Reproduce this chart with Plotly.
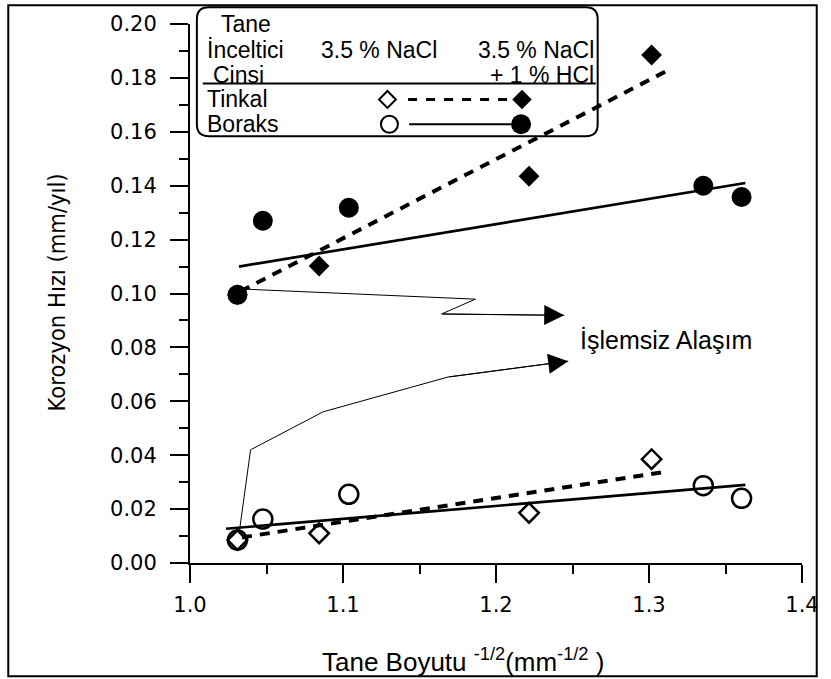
import plotly.graph_objects as go

# ---------------- data ----------------
x_tinkal = [1.031, 1.0844, 1.2216, 1.3017]
y_tinkal_nacl = [0.0085, 0.0110, 0.0186, 0.0385]
y_tinkal_hcl = [0.0995, 0.1102, 0.1435, 0.1885]

x_boraks = [1.031, 1.0476, 1.1038, 1.3355, 1.3605]
y_boraks_nacl = [0.0085, 0.0163, 0.0255, 0.0287, 0.0240]
y_boraks_hcl = [0.0995, 0.1270, 0.1318, 0.1400, 0.1358]

# fitted lines (end points)
fit_tinkal_hcl_x = [1.033, 1.313]
fit_tinkal_hcl_y = [0.1008, 0.1830]
fit_boraks_hcl_x = [1.032, 1.363]
fit_boraks_hcl_y = [0.1100, 0.1410]
fit_tinkal_nacl_x = [1.034, 1.309]
fit_tinkal_nacl_y = [0.0095, 0.0337]
fit_boraks_nacl_x = [1.0235, 1.363]
fit_boraks_nacl_y = [0.0127, 0.0290]

# arrows to the "untreated alloy" label
arrow_up_x = [1.0365, 1.1865, 1.1644, 1.2446]
arrow_up_y = [0.1016, 0.0979, 0.0924, 0.0919]
arrow_lo_x = [1.0321, 1.0396, 1.0870, 1.1686, 1.2472]
arrow_lo_y = [0.0110, 0.0420, 0.0561, 0.0690, 0.0749]

x_ticks = [1.0, 1.1, 1.2, 1.3, 1.4]
y_ticks = [0.00, 0.02, 0.04, 0.06, 0.08, 0.10, 0.12, 0.14, 0.16, 0.18, 0.20]

# ---------------- layout geometry (pixels) ----------------
W, H = 831, 679
L, R, T, B = 190, 813, 20, 563
FONT = "Arial, Liberation Sans, sans-serif"
TICKFONT = "DejaVu Sans, Arial, sans-serif"
NARROW = "DejaVu Sans Condensed, Liberation Sans, sans-serif"


def PX(x):
    return (x - L) / (R - L)


def PY(y):
    return (B - y) / (B - T)


fig = go.Figure()

line_dash = "10px,8px"

# fit lines
fig.add_trace(go.Scatter(x=fit_tinkal_hcl_x, y=fit_tinkal_hcl_y, mode="lines",
                         line=dict(color="black", width=4, dash=line_dash), hoverinfo="skip"))
fig.add_trace(go.Scatter(x=fit_boraks_hcl_x, y=fit_boraks_hcl_y, mode="lines",
                         line=dict(color="black", width=2.7), hoverinfo="skip"))
fig.add_trace(go.Scatter(x=fit_tinkal_nacl_x, y=fit_tinkal_nacl_y, mode="lines",
                         line=dict(color="black", width=4, dash=line_dash), hoverinfo="skip"))
fig.add_trace(go.Scatter(x=fit_boraks_nacl_x, y=fit_boraks_nacl_y, mode="lines",
                         line=dict(color="black", width=2.7), hoverinfo="skip"))

# arrow polylines
fig.add_trace(go.Scatter(x=arrow_up_x, y=arrow_up_y, mode="lines",
                         line=dict(color="black", width=1), hoverinfo="skip"))
fig.add_trace(go.Scatter(x=arrow_lo_x, y=arrow_lo_y, mode="lines",
                         line=dict(color="black", width=1), hoverinfo="skip"))

# markers
fig.add_trace(go.Scatter(x=x_tinkal, y=y_tinkal_hcl, mode="markers", name="Tinkal 3.5% NaCl + 1% HCl",
                         marker=dict(symbol="diamond", size=16, color="black")))
fig.add_trace(go.Scatter(x=x_boraks, y=y_boraks_hcl, mode="markers", name="Boraks 3.5% NaCl + 1% HCl",
                         marker=dict(symbol="circle", size=20, color="black")))
fig.add_trace(go.Scatter(x=x_boraks, y=y_boraks_nacl, mode="markers", name="Boraks 3.5% NaCl",
                         marker=dict(symbol="circle-open", size=19, color="black", line=dict(width=2.5))))
fig.add_trace(go.Scatter(x=x_tinkal, y=y_tinkal_nacl, mode="markers", name="Tinkal 3.5% NaCl",
                         marker=dict(symbol="diamond-open", size=15, color="black", line=dict(width=2.5))))

# legend sample symbols on an overlay pixel axis
fig.add_trace(go.Scatter(x=[412, 520], y=[96, 96], mode="lines", xaxis="x2", yaxis="y2",
                         line=dict(color="black", width=3, dash="9px,9px"), hoverinfo="skip"))
fig.add_trace(go.Scatter(x=[413, 517], y=[121, 121], mode="lines", xaxis="x2", yaxis="y2",
                         line=dict(color="black", width=2), hoverinfo="skip"))
fig.add_trace(go.Scatter(x=[391], y=[96], mode="markers", xaxis="x2", yaxis="y2",
                         marker=dict(symbol="diamond-open", size=13, color="black", line=dict(width=2)),
                         hoverinfo="skip"))
fig.add_trace(go.Scatter(x=[528], y=[96], mode="markers", xaxis="x2", yaxis="y2",
                         marker=dict(symbol="diamond", size=15, color="black"), hoverinfo="skip"))
fig.add_trace(go.Scatter(x=[393], y=[121], mode="markers", xaxis="x2", yaxis="y2",
                         marker=dict(symbol="circle-open", size=17, color="black", line=dict(width=2)),
                         hoverinfo="skip"))
fig.add_trace(go.Scatter(x=[527], y=[121], mode="markers", xaxis="x2", yaxis="y2",
                         marker=dict(symbol="circle", size=20, color="black"), hoverinfo="skip"))

annotations = []
# arrow heads
for xs, ys in ((arrow_up_x, arrow_up_y), (arrow_lo_x, arrow_lo_y)):
    annotations.append(dict(x=xs[-1], y=ys[-1], ax=xs[-2], ay=ys[-2], xref="x", yref="y",
                            axref="x", ayref="y", showarrow=True, arrowhead=2, arrowsize=4,
                            arrowwidth=1, arrowcolor="black", text=""))
annotations.append(dict(x=PX(585), y=PY(338), xref="paper", yref="paper", xanchor="left",
                        yanchor="middle", showarrow=False, text="İşlemsiz Alaşım",
                        font=dict(family=FONT, size=25, color="black")))

# legend texts (pixel positions)
leg_font = dict(family=FONT, size=23, color="black")
leg_texts = [
    ("Tane", 220, 20, "left"),
    ("İnceltici", 205, 46, "left"),
    ("3.5 % NaCl", 321, 46, "left"),
    ("3.5 % NaCl", 603, 46, "right"),
    ("Cinsi", 211, 71, "left"),
    ("+ 1 % HCl", 603, 71, "right"),
    ("Tinkal", 205, 96, "left"),
    ("Boraks", 205, 121, "left"),
]
for t, x, y, anc in leg_texts:
    annotations.append(dict(x=PX(x), y=PY(y), xref="paper", yref="paper", xanchor=anc,
                            yanchor="middle", showarrow=False, text=t, font=leg_font))

# axis titles
annotations.append(dict(x=PX(55), y=PY(290), xref="paper", yref="paper", textangle=-90,
                        xanchor="center", yanchor="middle",
                        showarrow=False, text="Korozyon Hızı (mm/yıl)",
                        font=dict(family=NARROW, size=23.5, color="black")))
annotations.append(dict(x=PX(468), y=PY(661), xref="paper", yref="paper",
                        xanchor="center", yanchor="middle",
                        showarrow=False,
                        text="Tane Boyutu <sup>-1/2</sup>(mm<sup>-1/2</sup> )",
                        font=dict(family=FONT, size=26, color="black")))

# shapes: outer frame, legend box, legend rule
x0, x1, yt, yb = PX(197), PX(605), PY(3), PY(133)
rx, ry = 12 / (R - L), 12 / (B - T)
box_path = (f"M {x0+rx},{yt} L {x1-rx},{yt} Q {x1},{yt} {x1},{yt-ry} "
            f"L {x1},{yb+ry} Q {x1},{yb} {x1-rx},{yb} L {x0+rx},{yb} "
            f"Q {x0},{yb} {x0},{yb+ry} L {x0},{yt-ry} Q {x0},{yt} {x0+rx},{yt} Z")
shapes = [
    dict(type="rect", xref="paper", yref="paper", x0=PX(5), x1=PX(828), y0=PY(677), y1=PY(1),
         line=dict(color="black", width=2)),
    dict(type="path", xref="paper", yref="paper", path=box_path, line=dict(color="black", width=2)),
    dict(type="line", xref="paper", yref="paper", x0=PX(203), x1=PX(603), y0=PY(80), y1=PY(80),
         line=dict(color="black", width=2)),
]

fig.update_layout(
    width=W, height=H,
    margin=dict(l=L, r=W - R, t=T, b=H - B, pad=0),
    paper_bgcolor="white", plot_bgcolor="white",
    showlegend=False,
    font=dict(family=FONT, size=19, color="black"),
    annotations=annotations,
    shapes=shapes,
    xaxis=dict(range=[1.0, 1.4], tickvals=x_ticks, ticktext=[f"{v:.1f}" for v in x_ticks],
               showgrid=False, zeroline=False, showline=True, linecolor="black", linewidth=2,
               ticks="outside", ticklen=18, tickwidth=2, tickcolor="black",
               minor=dict(dtick=0.05, ticks="outside", ticklen=9, tickwidth=2, tickcolor="black",
                          showgrid=False),
               tickfont=dict(family=TICKFONT, size=21), ticklabelstandoff=4),
    yaxis=dict(range=[0, 0.2], tickvals=y_ticks, ticktext=[f"{v:.2f}" for v in y_ticks],
               showgrid=False, zeroline=False, showline=True, linecolor="black", linewidth=2,
               ticks="outside", ticklen=18, tickwidth=2, tickcolor="black",
               minor=dict(dtick=0.01, ticks="outside", ticklen=9, tickwidth=2, tickcolor="black",
                          showgrid=False),
               tickfont=dict(family=TICKFONT, size=21), ticklabelstandoff=9),
    xaxis2=dict(range=[L, R], overlaying="x", visible=False, showgrid=False, zeroline=False),
    yaxis2=dict(range=[B, T], overlaying="y", visible=False, showgrid=False, zeroline=False),
)

fig.write_html("out.html")
